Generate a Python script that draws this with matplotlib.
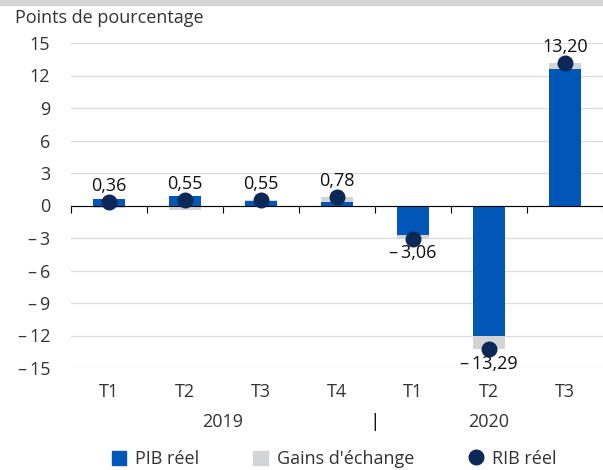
import numpy as np
import matplotlib.pyplot as plt
from matplotlib.patches import Patch, Rectangle
from matplotlib.lines import Line2D
import matplotlib.transforms as mtransforms

plt.rcParams['font.family'] = ['Open Sans', 'DejaVu Sans']

quarters = ["T1", "T2", "T3", "T4", "T1", "T2", "T3"]
years = ["2019", "2020"]
pib = [0.56, 0.92, 0.45, 0.30, -2.70, -12.00, 12.60]
gains = [-0.20, -0.37, 0.10, 0.48, -0.36, -1.29, 0.60]
rib = [0.36, 0.55, 0.55, 0.78, -3.06, -13.29, 13.20]
yticks = [15, 12, 9, 6, 3, 0, -3, -6, -9, -12, -15]

blue = "#0057b8"
grey = "#d3d4d5"
navy = "#0c2856"
fs = 13

def fmt(v):
    s = f"{abs(v):.2f}".replace(".", ",")
    return s if v >= 0 else "\u2013\u2009" + s

def tick_fmt(v):
    return str(v) if v >= 0 else "\u2013\u2009" + str(abs(v))

fig = plt.figure(figsize=(6.03, 4.70), dpi=100)
ax = fig.add_axes([71 / 603, 1 - 368 / 470, 1 - 71 / 603, 325 / 470])

x = np.arange(len(quarters))
pib_a = np.array(pib)
gains_a = np.array(gains)
gbottom = np.where(np.sign(gains_a) == np.sign(pib_a), pib_a, 0)
w = 0.42
ax.bar(x, gains_a, w, bottom=gbottom, color=grey, zorder=2)
ax.bar(x, pib_a, w, color=blue, zorder=3)
ax.plot(x, rib, "o", color=navy, ms=10.5, zorder=5, linestyle="none")

for xi, v in zip(x, rib):
    if v >= 0:
        ax.annotate(fmt(v), (xi, v), xytext=(0, 5), textcoords="offset points",
                    ha="center", va="bottom", fontsize=fs, color="#111111", zorder=6)
    else:
        ax.annotate(fmt(v), (xi, v), xytext=(0, -4), textcoords="offset points",
                    ha="center", va="top", fontsize=fs, color="#111111", zorder=6)

ax.set_xlim(-0.5, len(quarters) - 0.5)
ax.set_ylim(-15, 15)
ax.set_yticks(yticks)
ax.set_yticklabels([tick_fmt(t) for t in yticks], fontsize=fs, color="#333333")
ax.tick_params(axis="y", length=0, pad=15)
ax.grid(axis="y", color="#dcdcdc", lw=1, zorder=0)
for s in ["top", "right", "left"]:
    ax.spines[s].set_visible(False)
ax.spines["bottom"].set_position(("data", 0))
ax.spines["bottom"].set_color("black")
ax.spines["bottom"].set_zorder(4)
ax.set_xticks(np.arange(-0.5, len(quarters) - 0.4, 1.0))
ax.set_xticklabels([])
ax.tick_params(axis="x", direction="out", length=5, color="black")

trans = mtransforms.blended_transform_factory(ax.transData, ax.transAxes)
for xi, q in zip(x, quarters):
    ax.text(xi, -0.074, q, transform=trans, ha="center", va="center",
            fontsize=fs, color="#333333")
ax.text(1.5, -0.166, years[0], transform=trans, ha="center", va="center",
        fontsize=fs, color="#333333")
ax.text(5.0, -0.166, years[1], transform=trans, ha="center", va="center",
        fontsize=fs, color="#333333")
ax.text(3.5, -0.166, "|", transform=trans, ha="center", va="center",
        fontsize=fs + 1, color="#111111")

fig.text(15 / 603, 1 - 18 / 470, "Points de pourcentage", ha="left", va="center",
         fontsize=fs, color="#333333")
fig.patches.append(Rectangle((0, 1 - 5 / 470), 1, 5 / 470, transform=fig.transFigure,
                             color="#d4d4d4", zorder=0))

handles = [
    Patch(color=blue, label="PIB réel"),
    Patch(color=grey, label="Gains d'échange"),
    Line2D([], [], marker="o", ls="none", color=navy, ms=10.5, label="RIB réel"),
]
fig.legend(handles=handles, loc="center", bbox_to_anchor=(334 / 603, 1 - 459 / 470),
           ncol=3, frameon=False, fontsize=fs, handlelength=0.8, handleheight=0.8,
           columnspacing=3.0, handletextpad=0.5, labelcolor="#333333")

fig.savefig("out.png", dpi=100)
